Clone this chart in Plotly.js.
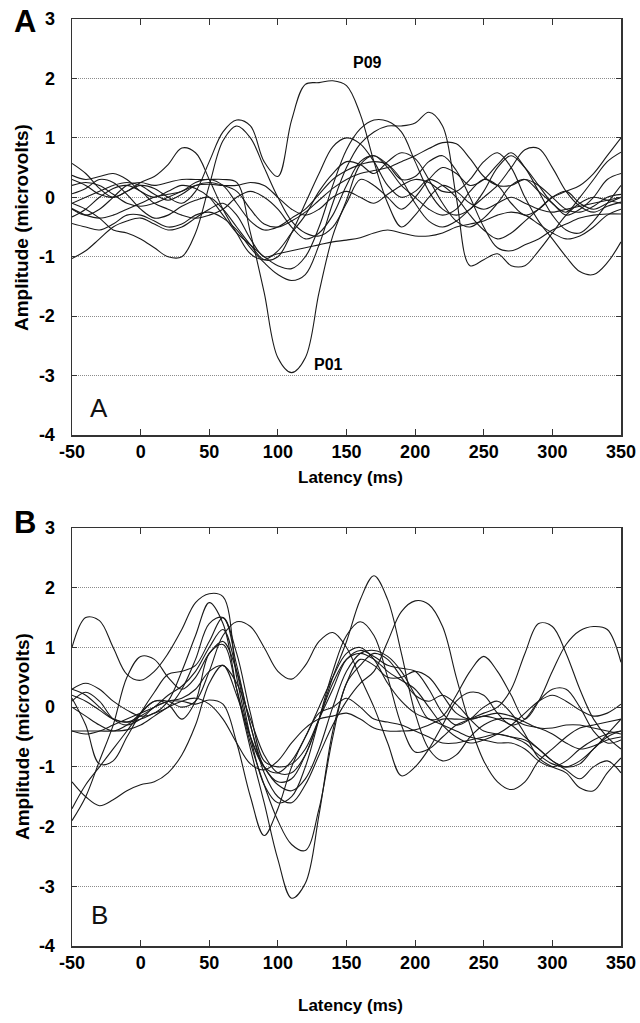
<!DOCTYPE html>
<html>
<head>
<meta charset="utf-8">
<script src="https://cdn.plot.ly/plotly-3.0.1.min.js"></script>
<style>html,body{margin:0;padding:0;background:#fff}#chart{width:640px;height:1023px}</style>
</head>
<body>
<div id="chart"></div>
<script>
// Latency axis (ms), shared by every trace
const latency = [-50,-40,-30,-20,-10,0,10,20,30,40,50,60,70,80,90,100,110,120,130,140,150,160,170,180,190,200,210,220,230,240,250,260,270,280,290,300,310,320,330,340,350];

// Panel A waveforms (microvolts)
const a1_P09 = [0.3,0.2,0.05,0.0,0.1,0.2,0.15,0.0,-0.1,0.1,0.6,1.1,1.3,1.2,0.6,0.35,1.3,1.9,1.93,1.96,1.88,1.4,0.6,-0.1,-0.5,-0.3,0.0,0.2,0.1,-0.1,-0.2,-0.1,0.0,-0.1,-0.2,-0.25,-0.2,-0.15,-0.1,-0.05,0.0];
const a2_P01 = [-0.2,-0.3,-0.2,0.0,0.2,0.25,0.2,0.25,0.3,0.3,0.3,0.3,0.25,-0.6,-1.6,-2.7,-2.95,-2.7,-1.6,-0.65,-0.05,0.55,0.7,0.5,0.2,0.0,-0.2,-0.3,-0.2,0.1,0.3,0.2,-0.1,-0.3,-0.2,0.0,0.1,-0.1,-0.2,-0.1,0.0];
const a3 = [0.57,0.4,0.15,0.0,0.1,0.25,0.35,0.55,0.83,0.75,0.3,-0.2,-0.6,-0.95,-1.05,-0.9,-0.6,-0.3,0.1,0.4,0.6,0.55,0.4,0.6,0.75,0.65,0.3,-0.1,-0.4,-0.5,-0.35,-0.1,0.2,0.3,0.1,-0.1,-0.3,-0.2,0.0,0.3,0.4];
const a4 = [-0.1,-0.2,-0.35,-0.55,-0.6,-0.7,-0.85,-1.0,-1.0,-0.6,0.2,0.95,1.2,1.0,0.5,0.0,-0.4,-0.6,-0.65,-0.5,-0.1,0.3,0.2,0.0,-0.2,0.0,0.3,0.5,0.4,0.2,0.3,0.55,0.75,0.5,0.1,-0.3,-0.55,-0.6,-0.4,-0.1,0.2];
const a5 = [-1.03,-0.9,-0.7,-0.5,-0.4,-0.35,-0.45,-0.55,-0.5,-0.35,-0.2,-0.1,-0.3,-0.7,-1.0,-0.95,-0.9,-0.85,-0.8,-0.75,-0.72,-0.68,-0.6,-0.55,-0.6,-0.65,-0.65,-0.6,-0.5,-0.45,-0.4,-0.3,-0.25,-0.3,-0.45,-0.6,-0.7,-0.65,-0.5,-0.3,-0.2];
const a6 = [0.06,0.15,0.3,0.25,0.05,-0.2,-0.35,-0.3,-0.15,-0.05,0.0,-0.2,-0.5,-0.8,-1.05,-1.0,-0.6,-0.1,0.4,0.85,1.0,0.9,0.6,0.2,0.0,0.1,0.3,0.2,0.0,-0.3,-0.55,-0.7,-0.6,-0.4,-0.2,0.0,0.1,0.2,0.4,0.7,1.0];
const a7 = [0.37,0.3,0.35,0.4,0.3,0.1,0.0,0.1,0.2,0.15,0.0,-0.3,-0.6,-0.8,-1.0,-1.15,-1.2,-1.0,-0.5,0.2,0.8,1.15,1.3,1.28,1.1,0.6,0.1,-0.2,-0.3,-0.2,0.1,0.5,0.7,0.5,0.2,-0.1,-0.25,0.0,0.3,0.6,0.76];
const a8 = [-0.44,-0.5,-0.55,-0.45,-0.3,-0.3,-0.4,-0.5,-0.45,-0.3,-0.25,-0.35,-0.55,-0.85,-1.1,-1.3,-1.4,-1.3,-0.8,-0.1,0.5,0.9,1.1,1.2,1.2,1.25,1.43,1.2,0.0,-1.15,-1.05,-0.95,-1.15,-1.15,-0.9,-0.6,-0.3,-0.1,0.0,-0.05,-0.1];
const a9 = [-0.1,0.0,0.1,0.2,0.25,0.2,0.05,-0.05,0.05,0.2,0.25,0.2,0.1,-0.2,-0.45,-0.5,-0.4,-0.25,-0.05,0.15,0.3,0.4,0.45,0.5,0.6,0.7,0.82,0.92,0.9,0.65,0.35,0.2,0.2,0.3,0.2,0.0,-0.2,-0.25,-0.15,0.0,0.05];
const a10 = [0.2,0.25,0.2,0.05,-0.1,-0.15,-0.1,0.0,0.1,0.2,0.22,0.2,0.2,0.25,0.2,0.0,-0.2,-0.3,-0.2,0.0,0.1,0.0,-0.1,0.05,0.2,0.3,0.25,0.1,0.1,0.3,0.6,0.75,0.5,0.0,-0.4,-0.7,-1.0,-1.25,-1.3,-1.1,-0.75];
const a11 = [-0.19,-0.3,-0.35,-0.3,-0.2,-0.1,0.0,0.05,0.1,0.25,0.3,0.2,-0.1,-0.4,-0.55,-0.5,-0.35,-0.2,0.05,0.3,0.45,0.55,0.6,0.55,0.3,-0.1,-0.4,-0.5,-0.4,-0.2,0.0,0.2,0.5,0.8,0.82,0.5,0.1,-0.15,-0.25,-0.15,-0.08];
const a12 = [-0.33,-0.2,0.0,0.15,0.2,0.1,-0.1,-0.2,-0.3,-0.35,-0.3,-0.2,0.0,0.1,0.0,-0.2,-0.5,-0.7,-0.6,-0.3,0.2,0.6,0.7,0.55,0.3,0.35,0.6,0.7,0.45,0.0,-0.5,-0.85,-0.9,-0.8,-0.7,-0.55,-0.45,-0.35,-0.3,-0.28,-0.28];

// Panel B waveforms (microvolts)
const b1 = [1.0,1.5,1.45,1.0,0.55,0.45,0.6,0.9,1.3,1.75,1.9,1.85,0.5,-0.5,-1.0,-1.1,-0.9,-0.5,0.0,0.5,0.9,1.0,0.8,0.4,0.1,-0.1,-0.2,-0.3,-0.4,-0.5,-0.55,-0.6,-0.6,-0.7,-0.9,-1.0,-0.9,-0.7,-0.55,-0.45,-0.4];
const b2 = [0.3,0.4,0.3,0.1,-0.05,-0.15,-0.1,0.1,0.6,1.2,1.75,1.4,0.3,-0.7,-1.6,-2.55,-3.2,-2.95,-1.8,-0.4,0.4,0.8,0.7,0.5,0.5,0.6,0.5,0.2,-0.1,-0.2,-0.15,-0.2,-0.3,-0.5,-0.7,-0.9,-1.0,-0.95,-0.7,-0.5,-0.4];
const b3 = [-0.4,-0.45,-0.4,-0.3,-0.2,-0.1,0.0,0.1,0.15,0.3,0.6,0.7,0.4,-0.2,-0.8,-1.1,-1.1,-0.8,-0.2,0.5,1.1,1.8,2.2,1.8,0.9,-0.1,-0.7,-0.9,-0.8,-0.5,-0.3,-0.2,-0.2,-0.3,-0.35,-0.45,-0.6,-0.7,-0.65,-0.55,-0.5];
const b4 = [0.0,-0.15,-0.3,-0.4,-0.3,-0.1,0.1,0.1,0.0,0.1,0.6,1.2,1.43,1.35,1.0,0.6,0.47,0.7,1.1,1.25,1.0,0.5,0.0,-0.6,-1.15,-1.0,-0.7,-0.3,0.1,0.25,0.2,-0.1,-0.3,-0.2,0.1,0.3,0.3,0.0,-0.4,-0.6,-0.55];
const b5 = [-1.9,-1.5,-0.9,-0.3,0.5,0.85,0.8,0.5,0.3,0.5,0.9,1.1,0.6,-0.3,-1.1,-1.5,-1.6,-1.3,-0.8,-0.3,0.1,0.4,0.6,1.1,1.6,1.78,1.72,1.35,0.5,-0.3,-0.9,-1.25,-1.38,-1.25,-0.9,-0.7,-0.5,-0.35,-0.3,-0.25,-0.2];
const b6 = [0.3,0.2,0.0,-0.2,-0.25,-0.15,0.0,0.2,0.35,0.6,1.0,1.3,0.6,-0.5,-1.3,-1.6,-1.5,-1.0,-0.2,0.6,1.2,1.43,1.2,0.5,-0.3,-0.75,-0.7,-0.5,-0.3,-0.2,-0.1,0.0,0.3,0.9,1.4,1.35,0.9,0.3,-0.2,-0.5,-0.7];
const b7 = [-1.25,-1.5,-1.65,-1.55,-1.4,-1.3,-1.25,-1.1,-0.8,-0.3,0.4,0.7,0.2,-0.5,-1.0,-1.3,-1.4,-1.2,-0.7,0.0,0.6,0.9,0.95,0.85,0.6,0.2,-0.2,-0.15,0.2,0.6,0.85,0.6,0.2,-0.2,0.1,0.6,1.05,1.28,1.35,1.3,0.75];
const b8 = [0.15,-0.3,-0.95,-0.9,-0.5,-0.1,0.25,0.55,0.6,0.7,1.1,1.5,0.9,-0.1,-0.9,-1.0,-0.95,-0.7,-0.2,0.3,0.8,0.95,0.85,0.7,0.65,0.6,0.3,-0.1,-0.3,-0.2,0.0,0.1,-0.1,-0.45,-0.85,-1.0,-1.1,-1.35,-1.4,-1.1,-0.85];
const b9 = [-0.4,-0.4,-0.4,-0.4,-0.38,-0.3,-0.15,0.0,0.1,0.15,0.05,-0.2,-0.6,-0.95,-1.05,-0.9,-0.6,-0.35,-0.2,-0.15,-0.1,-0.2,-0.35,-0.4,-0.4,-0.38,-0.3,-0.2,-0.2,-0.2,-0.15,-0.1,-0.15,-0.25,-0.35,-0.35,-0.3,-0.3,-0.35,-0.4,-0.45];
const b10 = [0.1,0.25,0.1,-0.2,-0.3,-0.2,0.0,0.1,0.1,0.05,0.12,0.05,-0.6,-1.5,-2.15,-1.7,-1.0,-0.5,-0.1,0.0,0.15,0.0,-0.2,-0.25,-0.3,-0.4,-0.5,-0.6,-0.6,-0.55,-0.5,-0.45,-0.5,-0.6,-0.8,-0.95,-1.0,-0.9,-0.7,-0.45,-0.2];
const b11 = [-1.7,-1.3,-1.0,-0.7,-0.4,-0.1,0.1,0.05,-0.2,0.1,0.9,1.05,0.3,-0.6,-1.3,-1.9,-2.3,-2.4,-1.7,-0.5,0.4,0.7,0.9,0.8,0.5,0.2,0.1,0.2,0.05,-0.2,-0.4,-0.45,-0.5,-0.55,-0.7,-0.9,-1.05,-1.2,-1.0,-0.9,-1.1];
const b12 = [0.2,0.1,-0.05,-0.2,-0.25,-0.2,-0.1,0.0,0.3,0.8,1.4,1.5,0.7,-0.3,-1.0,-1.25,-1.2,-0.8,-0.2,0.4,0.8,0.9,0.8,0.6,0.45,0.3,0.0,-0.3,-0.5,-0.6,-0.55,-0.45,-0.3,-0.1,0.1,0.2,0.1,-0.05,-0.15,-0.1,0.05];

const panelA = [a1_P09,a2_P01,a3,a4,a5,a6,a7,a8,a9,a10,a11,a12];
const panelB = [b1,b2,b3,b4,b5,b6,b7,b8,b9,b10,b11,b12];

const xTicks = [-50,0,50,100,150,200,250,300,350];
const yTicks = [-4,-3,-2,-1,0,1,2,3];

const FONT = 'Liberation Sans, Arial, Helvetica, sans-serif';
const lineStyle = {color:'#1a1a1a', width:1.1, shape:'spline', smoothing:1};

const traces = [];
panelA.forEach(function(ys){
  traces.push({x:latency, y:ys, xaxis:'x', yaxis:'y', mode:'lines', line:lineStyle, hoverinfo:'skip', showlegend:false});
});
panelB.forEach(function(ys){
  traces.push({x:latency, y:ys, xaxis:'x2', yaxis:'y2', mode:'lines', line:lineStyle, hoverinfo:'skip', showlegend:false});
});

const tickFont = {family:FONT, size:18, color:'#000', weight:'bold'};

function xax(anchor){
  return {anchor:anchor, range:[-50,350], tickvals:xTicks, ticktext:xTicks.map(String),
    showline:true, linecolor:'#333', linewidth:1.5, mirror:'ticks', ticks:'inside', ticklen:6, tickcolor:'#333', tickwidth:1.2,
    showgrid:false, zeroline:false, ticklabelstandoff:0, tickfont:tickFont};
}
function yax(anchor, domain){
  return {anchor:anchor, domain:domain, range:[-4,3], tickvals:yTicks, ticktext:yTicks.map(String),
    showline:true, linecolor:'#333', linewidth:1.5, mirror:'ticks', ticks:'inside', ticklen:5, tickcolor:'#333', tickwidth:1.2,
    showgrid:true, gridcolor:'#8c8c8c', griddash:'1px,1px', gridwidth:1, zeroline:false, ticklabelstandoff:12, tickfont:tickFont};
}

const W = 549, PH = 927;
function px(x){ return (x-72)/W; }
function py(y){ return (946-y)/PH; }

const yTitleFont = {family:FONT, size:19, color:'#000', weight:'bold'};
const xTitleFont = {family:FONT, size:17, color:'#000', weight:'bold'};
const annotations = [
  {xref:'paper', yref:'paper', x:px(22), y:py(228), text:'Amplitude (microvolts)', textangle:-90, showarrow:false, font:yTitleFont, xanchor:'center', yanchor:'middle'},
  {xref:'paper', yref:'paper', x:px(22), y:py(737), text:'Amplitude (microvolts)', textangle:-90, showarrow:false, font:yTitleFont, xanchor:'center', yanchor:'middle'},
  {xref:'paper', yref:'paper', x:px(350), y:py(477), text:'Latency (ms)', showarrow:false, font:xTitleFont, xanchor:'center', yanchor:'middle'},
  {xref:'paper', yref:'paper', x:px(350), y:py(1006), text:'Latency (ms)', showarrow:false, font:xTitleFont, xanchor:'center', yanchor:'middle'},
  {xref:'paper', yref:'paper', x:px(25), y:py(21), text:'A', showarrow:false, font:{family:FONT, size:31, color:'#000', weight:'bold'}, xanchor:'center', yanchor:'middle'},
  {xref:'paper', yref:'paper', x:px(25), y:py(522), text:'B', showarrow:false, font:{family:FONT, size:31, color:'#000', weight:'bold'}, xanchor:'center', yanchor:'middle'},
  {xref:'paper', yref:'paper', x:px(99), y:py(408), text:'A', showarrow:false, font:{family:FONT, size:26, color:'#111'}, xanchor:'center', yanchor:'middle'},
  {xref:'paper', yref:'paper', x:px(99), y:py(915), text:'B', showarrow:false, font:{family:FONT, size:26, color:'#111'}, xanchor:'center', yanchor:'middle'},
  {xref:'x', yref:'y', x:165, y:2.26, text:'P09', showarrow:false, font:{family:FONT, size:16, color:'#000', weight:'bold'}, xanchor:'center', yanchor:'middle'},
  {xref:'x', yref:'y', x:137, y:-2.82, text:'P01', showarrow:false, font:{family:FONT, size:16, color:'#000', weight:'bold'}, xanchor:'center', yanchor:'middle'}
];

const layout = {
  width:640, height:1023,
  margin:{l:72, r:19, t:19, b:77},
  paper_bgcolor:'#fff', plot_bgcolor:'#fff',
  showlegend:false,
  xaxis: xax('y'),
  yaxis: yax('x', [0.5512, 1]),
  xaxis2: xax('y2'),
  yaxis2: yax('x2', [0, 0.4509]),
  annotations: annotations
};

Plotly.newPlot('chart', traces, layout, {displayModeBar:false, staticPlot:true});
</script>
</body>
</html>
